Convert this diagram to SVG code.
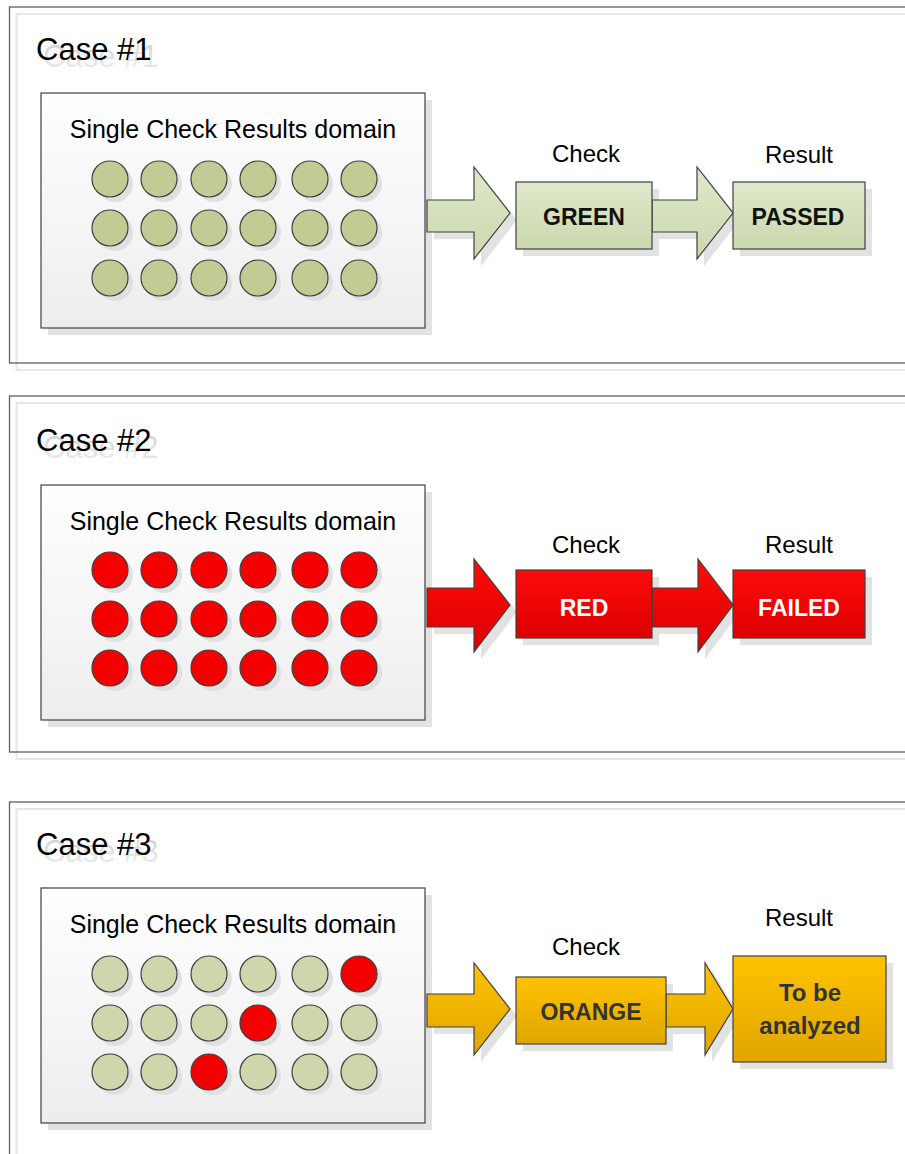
<svg xmlns="http://www.w3.org/2000/svg" width="905" height="1154" viewBox="0 0 905 1154">
  <defs>
    <linearGradient id="gDomain" x1="0" y1="0" x2="0" y2="1">
      <stop offset="0" stop-color="#ffffff"/>
      <stop offset="1" stop-color="#ededed"/>
    </linearGradient>
    <linearGradient id="gGreen" x1="0" y1="0" x2="0" y2="1">
      <stop offset="0" stop-color="#dfe9cb"/>
      <stop offset="1" stop-color="#cbd8ad"/>
    </linearGradient>
    <linearGradient id="gRed" x1="0" y1="0" x2="0" y2="1">
      <stop offset="0" stop-color="#ff0a0a"/>
      <stop offset="1" stop-color="#dc0000"/>
    </linearGradient>
    <linearGradient id="gOrange" x1="0" y1="0" x2="0" y2="1">
      <stop offset="0" stop-color="#ffc200"/>
      <stop offset="1" stop-color="#dfa600"/>
    </linearGradient>
    <linearGradient id="gTitleShadow" x1="0" y1="0" x2="0" y2="1">
      <stop offset="0" stop-color="#cfcfcf"/>
      <stop offset="1" stop-color="#eeeeee"/>
    </linearGradient>
  </defs>
  <style>
    text { font-family: "Liberation Sans", Arial, sans-serif; }
    .frame { fill: none; stroke: #5f5f5f; stroke-width: 1.3; }
    .frameShadow { fill: none; stroke: #e6e6e6; stroke-width: 2; }
    .title { font-size: 31px; fill: #000; }
    .titleShadow { font-size: 31px; fill: url(#gTitleShadow); }
    .domain { fill: url(#gDomain); stroke: #404040; stroke-width: 1.2; }
    .shadow { fill: #e2e2e2; }
    .dotShadow { fill: #e0e0e0; }
    .domLabel { font-size: 25px; fill: #000; text-anchor: middle; }
    .cap { font-size: 24px; fill: #000; text-anchor: middle; }
    .dot { stroke: #404040; stroke-width: 1.2; }
    .ok1 { fill: #c0cc94; }
    .ok3 { fill: #cdd7ab; }
    .bad { fill: #f50000; }
    .shape { stroke: #404040; stroke-width: 1.2; }
    .green { fill: url(#gGreen); }
    .red { fill: url(#gRed); }
    .orange { fill: url(#gOrange); }
    .lbl { font-size: 23px; font-weight: bold; text-anchor: middle; }
    .dark { fill: #111; }
    .white { fill: #fff; }
    .grey { fill: #333; }
  </style>

  <rect width="905" height="1154" fill="#fff"/>

  <!-- case frames -->
  <g id="frames">
    <rect class="frameShadow" x="16.5" y="14" width="920" height="356"/>
    <rect class="frame" x="9.5" y="7" width="920" height="356"/>
    <rect class="frameShadow" x="16.5" y="403" width="920" height="356"/>
    <rect class="frame" x="9.5" y="396" width="920" height="356"/>
    <rect class="frameShadow" x="16.5" y="809" width="920" height="400"/>
    <rect class="frame" x="9.5" y="802" width="920" height="400"/>
  </g>

  <!-- case titles with their soft text shadow -->
  <g id="titles">
    <text class="titleShadow" x="43" y="67">Case #1</text>
    <text class="title" x="36" y="60">Case #1</text>
    <text class="titleShadow" x="43" y="458">Case #2</text>
    <text class="title" x="36" y="451">Case #2</text>
    <text class="titleShadow" x="43" y="862">Case #3</text>
    <text class="title" x="36" y="855">Case #3</text>
  </g>

  <!-- drop shadows of boxes and block arrows -->
  <g id="shadows">
    <rect class="shadow" x="48" y="100" width="384" height="235"/>
    <path class="shadow" d="M434,207 H481 V174 L517,220 L481,266 V239 H434 Z"/>
    <path class="shadow" d="M659,207 H704 V174 L740,220 L704,266 V239 H659 Z"/>
    <rect class="shadow" x="523" y="189" width="136" height="67"/>
    <rect class="shadow" x="740" y="189" width="132" height="67"/>

    <rect class="shadow" x="48" y="492" width="384" height="235"/>
    <path class="shadow" d="M434,595 H481 V566 L517,612 L481,659 V634 H434 Z"/>
    <path class="shadow" d="M659,595 H705 V566 L740,612 L705,659 V634 H659 Z"/>
    <rect class="shadow" x="523" y="577" width="136" height="68"/>
    <rect class="shadow" x="740" y="577" width="132" height="68"/>

    <rect class="shadow" x="48" y="895" width="384" height="235"/>
    <path class="shadow" d="M434,1001 H481 V970 L517,1016 L481,1062 V1034 H434 Z"/>
    <path class="shadow" d="M673,1001 H712 V970 L740,1016 L712,1062 V1034 H673 Z"/>
    <rect class="shadow" x="523" y="984" width="150" height="67"/>
    <rect class="shadow" x="740" y="963" width="153" height="106"/>
  </g>

  <!-- block arrows between stages -->
  <g id="connectors">
    <path class="shape green" d="M427,200 H474 V167 L510,213 L474,259 V232 H427 Z"/>
    <path class="shape green" d="M652,200 H697 V167 L733,213 L697,259 V232 H652 Z"/>

    <path class="shape red" d="M427,588 H474 V559 L510,605 L474,652 V627 H427 Z"/>
    <path class="shape red" d="M652,588 H698 V559 L733,605 L698,652 V627 H652 Z"/>

    <path class="shape orange" d="M427,994 H474 V963 L510,1009 L474,1055 V1027 H427 Z"/>
    <path class="shape orange" d="M666,994 H705 V963 L733,1009 L705,1055 V1027 H666 Z"/>
  </g>

  <!-- Case 1: all single checks green -->
  <g id="domain1">
    <rect class="domain" x="41" y="93" width="384" height="235"/>
    <text class="domLabel" x="233" y="138">Single Check Results domain</text>
    <g class="dotShadow">
      <circle cx="115" cy="184" r="18"/><circle cx="164" cy="184" r="18"/><circle cx="214" cy="184" r="18"/>
      <circle cx="263" cy="184" r="18"/><circle cx="315" cy="184" r="18"/><circle cx="364" cy="184" r="18"/>
      <circle cx="115" cy="233" r="18"/><circle cx="164" cy="233" r="18"/><circle cx="214" cy="233" r="18"/>
      <circle cx="263" cy="233" r="18"/><circle cx="315" cy="233" r="18"/><circle cx="364" cy="233" r="18"/>
      <circle cx="115" cy="283" r="18"/><circle cx="164" cy="283" r="18"/><circle cx="214" cy="283" r="18"/>
      <circle cx="263" cy="283" r="18"/><circle cx="315" cy="283" r="18"/><circle cx="364" cy="283" r="18"/>
    </g>
    <g class="dot ok1">
      <circle cx="110" cy="179" r="18"/><circle cx="159" cy="179" r="18"/><circle cx="209" cy="179" r="18"/>
      <circle cx="258" cy="179" r="18"/><circle cx="310" cy="179" r="18"/><circle cx="359" cy="179" r="18"/>
      <circle cx="110" cy="228" r="18"/><circle cx="159" cy="228" r="18"/><circle cx="209" cy="228" r="18"/>
      <circle cx="258" cy="228" r="18"/><circle cx="310" cy="228" r="18"/><circle cx="359" cy="228" r="18"/>
      <circle cx="110" cy="278" r="18"/><circle cx="159" cy="278" r="18"/><circle cx="209" cy="278" r="18"/>
      <circle cx="258" cy="278" r="18"/><circle cx="310" cy="278" r="18"/><circle cx="359" cy="278" r="18"/>
    </g>
  </g>
  <g id="check1">
    <text class="cap" x="586" y="162">Check</text>
    <rect class="shape green" x="516" y="182" width="136" height="67"/>
    <text class="lbl dark" x="584" y="225">GREEN</text>
  </g>
  <g id="result1">
    <text class="cap" x="799" y="163">Result</text>
    <rect class="shape green" x="733" y="182" width="132" height="67"/>
    <text class="lbl dark" x="798" y="225">PASSED</text>
  </g>

  <!-- Case 2: all single checks red -->
  <g id="domain2">
    <rect class="domain" x="41" y="485" width="384" height="235"/>
    <text class="domLabel" x="233" y="530">Single Check Results domain</text>
    <g class="dotShadow">
      <circle cx="115" cy="575" r="18"/><circle cx="164" cy="575" r="18"/><circle cx="214" cy="575" r="18"/>
      <circle cx="263" cy="575" r="18"/><circle cx="315" cy="575" r="18"/><circle cx="364" cy="575" r="18"/>
      <circle cx="115" cy="624" r="18"/><circle cx="164" cy="624" r="18"/><circle cx="214" cy="624" r="18"/>
      <circle cx="263" cy="624" r="18"/><circle cx="315" cy="624" r="18"/><circle cx="364" cy="624" r="18"/>
      <circle cx="115" cy="673" r="18"/><circle cx="164" cy="673" r="18"/><circle cx="214" cy="673" r="18"/>
      <circle cx="263" cy="673" r="18"/><circle cx="315" cy="673" r="18"/><circle cx="364" cy="673" r="18"/>
    </g>
    <g class="dot bad">
      <circle cx="110" cy="570" r="18"/><circle cx="159" cy="570" r="18"/><circle cx="209" cy="570" r="18"/>
      <circle cx="258" cy="570" r="18"/><circle cx="310" cy="570" r="18"/><circle cx="359" cy="570" r="18"/>
      <circle cx="110" cy="619" r="18"/><circle cx="159" cy="619" r="18"/><circle cx="209" cy="619" r="18"/>
      <circle cx="258" cy="619" r="18"/><circle cx="310" cy="619" r="18"/><circle cx="359" cy="619" r="18"/>
      <circle cx="110" cy="668" r="18"/><circle cx="159" cy="668" r="18"/><circle cx="209" cy="668" r="18"/>
      <circle cx="258" cy="668" r="18"/><circle cx="310" cy="668" r="18"/><circle cx="359" cy="668" r="18"/>
    </g>
  </g>
  <g id="check2">
    <text class="cap" x="586" y="553">Check</text>
    <rect class="shape red" x="516" y="570" width="136" height="68"/>
    <text class="lbl white" x="584" y="616">RED</text>
  </g>
  <g id="result2">
    <text class="cap" x="799" y="553">Result</text>
    <rect class="shape red" x="733" y="570" width="132" height="68"/>
    <text class="lbl white" x="799" y="616">FAILED</text>
  </g>

  <!-- Case 3: mixed single checks -->
  <g id="domain3">
    <rect class="domain" x="41" y="888" width="384" height="235"/>
    <text class="domLabel" x="233" y="933">Single Check Results domain</text>
    <g class="dotShadow">
      <circle cx="115" cy="979" r="18"/><circle cx="164" cy="979" r="18"/><circle cx="214" cy="979" r="18"/>
      <circle cx="263" cy="979" r="18"/><circle cx="315" cy="979" r="18"/><circle cx="364" cy="979" r="18"/>
      <circle cx="115" cy="1028" r="18"/><circle cx="164" cy="1028" r="18"/><circle cx="214" cy="1028" r="18"/>
      <circle cx="263" cy="1028" r="18"/><circle cx="315" cy="1028" r="18"/><circle cx="364" cy="1028" r="18"/>
      <circle cx="115" cy="1077" r="18"/><circle cx="164" cy="1077" r="18"/><circle cx="214" cy="1077" r="18"/>
      <circle cx="263" cy="1077" r="18"/><circle cx="315" cy="1077" r="18"/><circle cx="364" cy="1077" r="18"/>
    </g>
    <g class="dot ok3">
      <circle cx="110" cy="974" r="18"/><circle cx="159" cy="974" r="18"/><circle cx="209" cy="974" r="18"/>
      <circle cx="258" cy="974" r="18"/><circle cx="310" cy="974" r="18"/>
      <circle cx="110" cy="1023" r="18"/><circle cx="159" cy="1023" r="18"/><circle cx="209" cy="1023" r="18"/>
      <circle cx="310" cy="1023" r="18"/><circle cx="359" cy="1023" r="18"/>
      <circle cx="110" cy="1072" r="18"/><circle cx="159" cy="1072" r="18"/>
      <circle cx="258" cy="1072" r="18"/><circle cx="310" cy="1072" r="18"/><circle cx="359" cy="1072" r="18"/>
    </g>
    <g class="dot bad">
      <circle cx="359" cy="974" r="18"/>
      <circle cx="258" cy="1023" r="18"/>
      <circle cx="209" cy="1072" r="18"/>
    </g>
  </g>
  <g id="check3">
    <text class="cap" x="586" y="955">Check</text>
    <rect class="shape orange" x="516" y="977" width="150" height="67"/>
    <text class="lbl grey" x="591" y="1020">ORANGE</text>
  </g>
  <g id="result3">
    <text class="cap" x="799" y="926">Result</text>
    <rect class="shape orange" x="733" y="956" width="153" height="106"/>
    <text class="lbl grey" x="810" y="1001" style="font-size:24px">To be</text>
    <text class="lbl grey" x="810" y="1034" style="font-size:24px">analyzed</text>
  </g>
</svg>
